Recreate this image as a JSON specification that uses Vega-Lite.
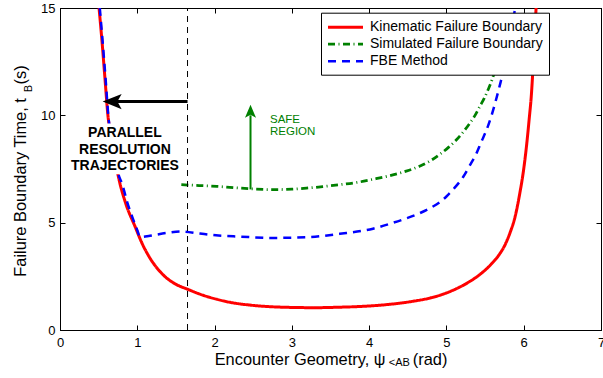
{
  "$schema": "https://vega.github.io/schema/vega-lite/v6.json",
  "width": 541,
  "height": 322,
  "autosize": {"type": "none"},
  "padding": {"left": 60, "top": 8, "right": 2, "bottom": 48},
  "background": "white",
  "config": {
    "font": "Liberation Sans",
    "view": {"stroke": "black", "strokeWidth": 1},
    "axis": {
      "grid": false, "domainColor": "black", "domainWidth": 1, "tickColor": "black", "tickWidth": 1, "tickSize": -5,
      "labelColor": "black", "labelFont": "Liberation Sans", "labelFontSize": 13,
      "titleColor": "black", "titleFont": "Liberation Sans", "titleFontSize": 16.4, "titleFontWeight": "normal",
      "labelFlush": false, "labelOverlap": false, "labelBound": false
    },
    "legend": {
      "labelFont": "Liberation Sans", "labelFontSize": 14, "labelColor": "black",
      "strokeColor": "black", "fillColor": "white", "padding": 6,
      "symbolType": "M-2.5,0L2.5,0", "symbolSize": 196, "symbolStrokeWidth": 3,
      "symbolOffset": 10, "labelOffset": 16, "rowPadding": 1, "labelLimit": 400
    }
  },
  "datasets": {
    "curves": [
      {"series": "Kinematic Failure Boundary", "x": 0.505, "y": 15.0},
      {"series": "Kinematic Failure Boundary", "x": 0.54, "y": 13.6},
      {"series": "Kinematic Failure Boundary", "x": 0.58, "y": 11.8},
      {"series": "Kinematic Failure Boundary", "x": 0.62, "y": 10.0},
      {"series": "Kinematic Failure Boundary", "x": 0.66, "y": 9.0},
      {"series": "Kinematic Failure Boundary", "x": 0.70, "y": 8.2},
      {"series": "Kinematic Failure Boundary", "x": 0.755, "y": 7.15},
      {"series": "Kinematic Failure Boundary", "x": 0.85, "y": 5.9},
      {"series": "Kinematic Failure Boundary", "x": 0.97, "y": 4.83},
      {"series": "Kinematic Failure Boundary", "x": 1.06, "y": 4.05},
      {"series": "Kinematic Failure Boundary", "x": 1.164, "y": 3.35},
      {"series": "Kinematic Failure Boundary", "x": 1.27, "y": 2.82},
      {"series": "Kinematic Failure Boundary", "x": 1.38, "y": 2.42},
      {"series": "Kinematic Failure Boundary", "x": 1.5, "y": 2.13},
      {"series": "Kinematic Failure Boundary", "x": 1.65, "y": 1.9},
      {"series": "Kinematic Failure Boundary", "x": 1.85, "y": 1.62},
      {"series": "Kinematic Failure Boundary", "x": 2.03, "y": 1.43},
      {"series": "Kinematic Failure Boundary", "x": 2.2, "y": 1.29},
      {"series": "Kinematic Failure Boundary", "x": 2.46, "y": 1.16},
      {"series": "Kinematic Failure Boundary", "x": 2.75, "y": 1.08},
      {"series": "Kinematic Failure Boundary", "x": 3.02, "y": 1.05},
      {"series": "Kinematic Failure Boundary", "x": 3.3, "y": 1.04},
      {"series": "Kinematic Failure Boundary", "x": 3.6, "y": 1.06},
      {"series": "Kinematic Failure Boundary", "x": 3.85, "y": 1.09},
      {"series": "Kinematic Failure Boundary", "x": 4.05, "y": 1.13},
      {"series": "Kinematic Failure Boundary", "x": 4.3, "y": 1.21},
      {"series": "Kinematic Failure Boundary", "x": 4.57, "y": 1.34},
      {"series": "Kinematic Failure Boundary", "x": 4.8, "y": 1.5},
      {"series": "Kinematic Failure Boundary", "x": 4.95, "y": 1.66},
      {"series": "Kinematic Failure Boundary", "x": 5.09, "y": 1.86},
      {"series": "Kinematic Failure Boundary", "x": 5.25, "y": 2.15},
      {"series": "Kinematic Failure Boundary", "x": 5.43, "y": 2.58},
      {"series": "Kinematic Failure Boundary", "x": 5.58, "y": 3.07},
      {"series": "Kinematic Failure Boundary", "x": 5.69, "y": 3.55},
      {"series": "Kinematic Failure Boundary", "x": 5.76, "y": 3.98},
      {"series": "Kinematic Failure Boundary", "x": 5.82, "y": 4.5},
      {"series": "Kinematic Failure Boundary", "x": 5.89, "y": 5.3},
      {"series": "Kinematic Failure Boundary", "x": 5.95, "y": 6.38},
      {"series": "Kinematic Failure Boundary", "x": 6.0, "y": 7.5},
      {"series": "Kinematic Failure Boundary", "x": 6.04, "y": 8.7},
      {"series": "Kinematic Failure Boundary", "x": 6.07, "y": 9.8},
      {"series": "Kinematic Failure Boundary", "x": 6.10, "y": 11.0},
      {"series": "Kinematic Failure Boundary", "x": 6.12, "y": 12.2},
      {"series": "Kinematic Failure Boundary", "x": 6.14, "y": 13.6},
      {"series": "Kinematic Failure Boundary", "x": 6.16, "y": 15.0},
      {"series": "Simulated Failure Boundary", "x": 1.57, "y": 6.77},
      {"series": "Simulated Failure Boundary", "x": 1.8, "y": 6.73},
      {"series": "Simulated Failure Boundary", "x": 2.03, "y": 6.69},
      {"series": "Simulated Failure Boundary", "x": 2.33, "y": 6.61},
      {"series": "Simulated Failure Boundary", "x": 2.46, "y": 6.58},
      {"series": "Simulated Failure Boundary", "x": 2.76, "y": 6.54},
      {"series": "Simulated Failure Boundary", "x": 3.0, "y": 6.56},
      {"series": "Simulated Failure Boundary", "x": 3.19, "y": 6.61},
      {"series": "Simulated Failure Boundary", "x": 3.4, "y": 6.68},
      {"series": "Simulated Failure Boundary", "x": 3.62, "y": 6.77},
      {"series": "Simulated Failure Boundary", "x": 3.85, "y": 6.88},
      {"series": "Simulated Failure Boundary", "x": 4.05, "y": 7.02},
      {"series": "Simulated Failure Boundary", "x": 4.27, "y": 7.19},
      {"series": "Simulated Failure Boundary", "x": 4.48, "y": 7.4},
      {"series": "Simulated Failure Boundary", "x": 4.66, "y": 7.64},
      {"series": "Simulated Failure Boundary", "x": 4.8, "y": 7.9},
      {"series": "Simulated Failure Boundary", "x": 4.92, "y": 8.2},
      {"series": "Simulated Failure Boundary", "x": 5.03, "y": 8.52},
      {"series": "Simulated Failure Boundary", "x": 5.13, "y": 8.86},
      {"series": "Simulated Failure Boundary", "x": 5.22, "y": 9.24},
      {"series": "Simulated Failure Boundary", "x": 5.3, "y": 9.62},
      {"series": "Simulated Failure Boundary", "x": 5.37, "y": 10.0},
      {"series": "Simulated Failure Boundary", "x": 5.43, "y": 10.4},
      {"series": "Simulated Failure Boundary", "x": 5.49, "y": 10.8},
      {"series": "Simulated Failure Boundary", "x": 5.54, "y": 11.2},
      {"series": "Simulated Failure Boundary", "x": 5.59, "y": 11.65},
      {"series": "Simulated Failure Boundary", "x": 5.63, "y": 12.12},
      {"series": "Simulated Failure Boundary", "x": 5.68, "y": 12.8},
      {"series": "Simulated Failure Boundary", "x": 5.72, "y": 13.5},
      {"series": "FBE Method", "x": 0.515, "y": 15.0},
      {"series": "FBE Method", "x": 0.55, "y": 13.5},
      {"series": "FBE Method", "x": 0.59, "y": 11.7},
      {"series": "FBE Method", "x": 0.625, "y": 10.0},
      {"series": "FBE Method", "x": 0.70, "y": 8.4},
      {"series": "FBE Method", "x": 0.76, "y": 7.2},
      {"series": "FBE Method", "x": 0.80, "y": 6.85},
      {"series": "FBE Method", "x": 0.87, "y": 5.95},
      {"series": "FBE Method", "x": 0.95, "y": 5.12},
      {"series": "FBE Method", "x": 1.0, "y": 4.65},
      {"series": "FBE Method", "x": 1.035, "y": 4.33},
      {"series": "FBE Method", "x": 1.164, "y": 4.39},
      {"series": "FBE Method", "x": 1.38, "y": 4.52},
      {"series": "FBE Method", "x": 1.57, "y": 4.59},
      {"series": "FBE Method", "x": 1.81, "y": 4.49},
      {"series": "FBE Method", "x": 2.05, "y": 4.4},
      {"series": "FBE Method", "x": 2.33, "y": 4.35},
      {"series": "FBE Method", "x": 2.76, "y": 4.29},
      {"series": "FBE Method", "x": 3.19, "y": 4.32},
      {"series": "FBE Method", "x": 3.62, "y": 4.48},
      {"series": "FBE Method", "x": 4.05, "y": 4.72},
      {"series": "FBE Method", "x": 4.27, "y": 4.95},
      {"series": "FBE Method", "x": 4.48, "y": 5.2},
      {"series": "FBE Method", "x": 4.66, "y": 5.45},
      {"series": "FBE Method", "x": 4.8, "y": 5.7},
      {"series": "FBE Method", "x": 4.92, "y": 5.97},
      {"series": "FBE Method", "x": 5.0, "y": 6.22},
      {"series": "FBE Method", "x": 5.1, "y": 6.6},
      {"series": "FBE Method", "x": 5.22, "y": 7.15},
      {"series": "FBE Method", "x": 5.3, "y": 7.65},
      {"series": "FBE Method", "x": 5.39, "y": 8.24},
      {"series": "FBE Method", "x": 5.45, "y": 8.75},
      {"series": "FBE Method", "x": 5.52, "y": 9.33},
      {"series": "FBE Method", "x": 5.58, "y": 9.95},
      {"series": "FBE Method", "x": 5.63, "y": 10.57},
      {"series": "FBE Method", "x": 5.68, "y": 11.25},
      {"series": "FBE Method", "x": 5.73, "y": 11.97},
      {"series": "FBE Method", "x": 5.78, "y": 12.8},
      {"series": "FBE Method", "x": 5.83, "y": 13.8},
      {"series": "FBE Method", "x": 5.89, "y": 15.0}
    ]
  },
  "resolve": {"axis": {"x": "independent", "y": "independent"}},
  "layer": [
    {
      "data": {"name": "curves"},
      "mark": {"type": "line", "clip": true, "interpolate": "monotone"},
      "encoding": {
        "x": {"field": "x", "type": "quantitative", "scale": {"domain": [0, 7], "nice": false},
          "axis": {"orient": "bottom", "values": [0, 1, 2, 3, 4, 5, 6, 7], "labelPadding": 11,
            "title": "Encounter Geometry, ψ\u00a0\u00a0\u00a0\u00a0\u00a0\u00a0(rad)", "titleBaseline": "alphabetic", "titleY": 34}},
        "y": {"field": "y", "type": "quantitative", "scale": {"domain": [0, 15], "nice": false},
          "axis": {"orient": "left", "values": [0, 5, 10, 15], "labelPadding": 10,
            "title": "Failure Boundary Time, t\u00a0\u00a0\u00a0(s)", "titleBaseline": "alphabetic", "titleX": -34.5, "titleY": 162.5}},
        "color": {"field": "series", "type": "nominal",
          "scale": {"domain": ["Kinematic Failure Boundary", "Simulated Failure Boundary", "FBE Method"], "range": ["#ff0000", "#008000", "#0000ff"]},
          "legend": {"title": null, "orient": "none", "legendX": 261, "legendY": 4.7}},
        "strokeDash": {"field": "series", "type": "nominal",
          "scale": {"domain": ["Kinematic Failure Boundary", "Simulated Failure Boundary", "FBE Method"], "range": [[1, 0], [7, 3.5, 1, 3.5], [8, 6]]},
          "legend": {"title": null, "orient": "none", "legendX": 261, "legendY": 4.7}},
        "strokeWidth": {"field": "series", "type": "ordinal",
          "scale": {"domain": ["Kinematic Failure Boundary", "Simulated Failure Boundary", "FBE Method"], "range": [3, 2.5, 3]},
          "legend": null}
      }
    },
    {
      "data": {"values": [{"x": 1.65, "y": 0, "y2": 15}]},
      "mark": {"type": "rule", "color": "black", "strokeWidth": 1, "strokeDash": [6, 5]},
      "encoding": {
        "x": {"field": "x", "type": "quantitative", "scale": {"domain": [0, 7], "nice": false},
          "axis": {"orient": "top", "values": [0, 1, 2, 3, 4, 5, 6, 7], "labels": false, "title": null}},
        "y": {"field": "y", "type": "quantitative", "scale": {"domain": [0, 15], "nice": false},
          "axis": {"orient": "right", "values": [0, 5, 10, 15], "labels": false, "title": null}},
        "y2": {"field": "y2"}
      }
    },
    {
      "data": {"values": [{"x": 0.14, "x2": 1.55, "y": 7.25, "y2": 9.62}]},
      "mark": {"type": "rect", "fill": "white"},
      "encoding": {
        "x": {"field": "x", "type": "quantitative", "axis": null},
        "x2": {"field": "x2"},
        "y": {"field": "y", "type": "quantitative", "axis": null},
        "y2": {"field": "y2"}
      }
    },
    {
      "data": {"values": [{"x": 0.84, "y": 8.99, "label": "PARALLEL\nRESOLUTION\nTRAJECTORIES"}]},
      "mark": {"type": "text", "font": "Liberation Sans", "fontWeight": "bold", "fontSize": 14, "lineBreak": "\n", "lineHeight": 16.6, "align": "center", "baseline": "alphabetic", "color": "black"},
      "encoding": {
        "x": {"field": "x", "type": "quantitative", "axis": null},
        "y": {"field": "y", "type": "quantitative", "axis": null},
        "text": {"field": "label"}
      }
    },
    {
      "data": {"values": [{"x": 0.68, "x2": 1.65, "y": 10.64}]},
      "mark": {"type": "rule", "color": "black", "strokeWidth": 3},
      "encoding": {
        "x": {"field": "x", "type": "quantitative", "axis": null},
        "x2": {"field": "x2"},
        "y": {"field": "y", "type": "quantitative", "axis": null}
      }
    },
    {
      "data": {"values": [{"x": 0.675, "y": 10.64}]},
      "mark": {"type": "point", "shape": "M-1,0L1,-0.8L0.55,0L1,0.8Z", "filled": true, "color": "black", "size": 361, "opacity": 1},
      "encoding": {
        "x": {"field": "x", "type": "quantitative", "axis": null},
        "y": {"field": "y", "type": "quantitative", "axis": null}
      }
    },
    {
      "data": {"values": [{"x": 2.465, "y": 6.55, "y2": 10.0}]},
      "mark": {"type": "rule", "color": "#008000", "strokeWidth": 2},
      "encoding": {
        "x": {"field": "x", "type": "quantitative", "axis": null},
        "y": {"field": "y", "type": "quantitative", "axis": null},
        "y2": {"field": "y2"}
      }
    },
    {
      "data": {"values": [{"x": 2.465, "y": 10.19}]},
      "mark": {"type": "point", "shape": "M0,-1L0.85,1L0,0.55L-0.85,1Z", "filled": true, "color": "#008000", "size": 169, "opacity": 1},
      "encoding": {
        "x": {"field": "x", "type": "quantitative", "axis": null},
        "y": {"field": "y", "type": "quantitative", "axis": null}
      }
    },
    {
      "data": {"values": [{"x": 2.717, "y": 9.64, "label": "SAFE\nREGION"}]},
      "mark": {"type": "text", "font": "Liberation Sans", "fontSize": 11.5, "lineBreak": "\n", "lineHeight": 12.4, "align": "left", "baseline": "alphabetic", "color": "#008000"},
      "encoding": {
        "x": {"field": "x", "type": "quantitative", "axis": null},
        "y": {"field": "y", "type": "quantitative", "axis": null},
        "text": {"field": "label"}
      }
    },
    {
      "data": {"values": [{"x": 4.39, "y": -1.686, "label": "<AB"}]},
      "mark": {"type": "text", "font": "Liberation Sans", "fontSize": 11, "align": "center", "baseline": "alphabetic", "color": "black"},
      "encoding": {
        "x": {"field": "x", "type": "quantitative", "axis": null},
        "y": {"field": "y", "type": "quantitative", "axis": null},
        "text": {"field": "label"}
      }
    },
    {
      "data": {"values": [{"x": -0.358, "y": 11.25, "label": "B"}]},
      "mark": {"type": "text", "font": "Liberation Sans", "fontSize": 10.5, "align": "center", "baseline": "alphabetic", "angle": 270, "color": "black"},
      "encoding": {
        "x": {"field": "x", "type": "quantitative", "axis": null},
        "y": {"field": "y", "type": "quantitative", "axis": null},
        "text": {"field": "label"}
      }
    }
  ]
}
